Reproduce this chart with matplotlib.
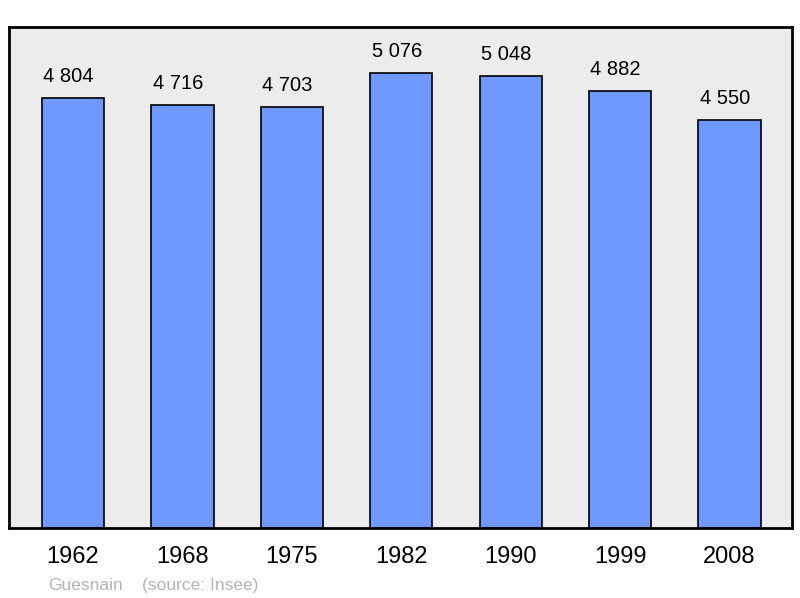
import matplotlib
matplotlib.use("Agg")
import matplotlib.pyplot as plt

years = ["1962", "1968", "1975", "1982", "1990", "1999", "2008"]
population = [4804, 4716, 4703, 5076, 5048, 4882, 4550]
value_labels = ["4 804", "4 716", "4 703", "5 076", "5 048", "4 882", "4 550"]
commune = "Guesnain"
source = "(source: Insee)"

plt.rcParams['font.family'] = ['Liberation Sans', 'DejaVu Sans']

fig = plt.figure(figsize=(8, 5.98), dpi=100)
ax = fig.add_axes([9/800, 70/598, 783/800, 501/598])
ax.set_facecolor('#ececec')

x = list(range(len(years)))
ax.bar(x, population, width=0.57, color='#7099ff', edgecolor='black', linewidth=1.2, zorder=2)
for xi, v, lab in zip(x, population, value_labels):
    ax.annotate(lab, (xi, v), xytext=(-3.3, 11.5), textcoords='offset points',
                ha='center', va='baseline', fontsize=14.5, color='black')

ax.set_xlim(-0.585, 6.571)
ax.set_ylim(0, 5591)
ax.set_xticks(x)
ax.set_xticklabels(years, fontsize=17)
ax.tick_params(axis='x', length=0, pad=13)
ax.set_yticks([])
for s in ax.spines.values():
    s.set_linewidth(2)
    s.set_color('black')

fig.text(48/800, 1 - 590/598, commune, fontsize=12.5, color='#b3b3b3', va='baseline', ha='left')
fig.text(142/800, 1 - 590/598, source, fontsize=12.5, color='#b3b3b3', va='baseline', ha='left')

fig.savefig('out.png', dpi=100)
